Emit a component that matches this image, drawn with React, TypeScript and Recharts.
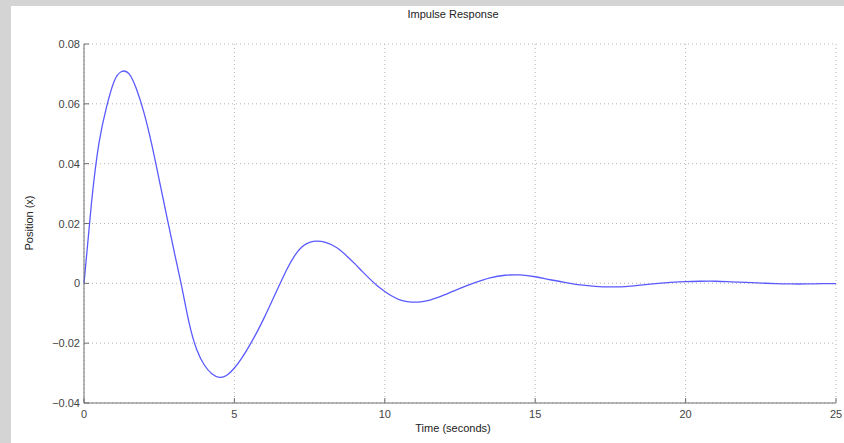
import { LineChart, Line, XAxis, YAxis, CartesianGrid } from 'recharts';

// impulse response
const time = [
  0, 0.25, 0.5, 0.75, 1, 1.25, 1.5, 1.75, 2, 2.25, 2.5, 2.75, 3, 3.25, 3.5, 3.75, 4, 4.25, 4.5, 4.75,
  5, 5.25, 5.5, 5.75, 6, 6.25, 6.5, 6.75, 7, 7.25, 7.5, 7.75, 8, 8.25, 8.5, 8.75, 9, 9.25, 9.5, 9.75,
  10, 10.25, 10.5, 10.75, 11, 11.25, 11.5, 11.75, 12, 12.5, 13, 13.5, 14, 14.5, 15, 15.5, 16, 16.5,
  17, 17.5, 18, 18.5, 19, 19.5, 20, 20.5, 21, 21.5, 22, 22.5, 23, 23.5, 24, 24.5, 25,
];
const position = [
  0, 0.027, 0.047, 0.059, 0.0675, 0.0708, 0.07, 0.0648, 0.0568, 0.0465, 0.0346, 0.0225, 0.0105,
  -0.0012, -0.0135, -0.0222, -0.0273, -0.0302, -0.0314, -0.0307, -0.0283, -0.0249, -0.0208, -0.0163,
  -0.0113, -0.0059, -0.0005, 0.0048, 0.0092, 0.0122, 0.0137, 0.0141, 0.0138, 0.0128, 0.0112, 0.009,
  0.0066, 0.004, 0.0015, -0.0008, -0.0027, -0.0043, -0.0055, -0.0061, -0.0063, -0.0061, -0.0056,
  -0.0048, -0.0038, -0.0017, 0.0002, 0.0018, 0.0027, 0.0028, 0.0022, 0.0012, 0.0003, -0.0005, -0.001,
  -0.0012, -0.0011, -0.0006, -0.0001, 0.0003, 0.0006, 0.0007, 0.0007, 0.0005, 0.0003, 0.0001, -0.0001,
  -0.0002, -0.0002, -0.0001, -0.0001,
];

const xTicks = [0, 5, 10, 15, 20, 25];
const yTicks = [-0.04, -0.02, 0, 0.02, 0.04, 0.06, 0.08];
const yTickLabels = ['\u22120.04', '\u22120.02', '0', '0.02', '0.04', '0.06', '0.08'];

const data = time.map((t, i) => ({ t, x: position[i] }));

const FONT = '"Liberation Sans", Arial, Helvetica, sans-serif';
const AXIS = '#6e6e6e';
const TEXT = '#444';
const TICK_LEN = 5;

const BottomTick = (props: any) => {
  const { x, y, payload } = props;
  return (
    <g>
      <line x1={x} x2={x} y1={y} y2={y - TICK_LEN} stroke={AXIS} />
      <text x={x} y={y + 15} textAnchor="middle" fontSize={11} fill={TEXT} fontFamily={FONT}>
        {payload.value}
      </text>
    </g>
  );
};

const LeftTick = (props: any) => {
  const { x, y, index } = props;
  return (
    <g>
      <line x1={x} x2={x + TICK_LEN} y1={y} y2={y} stroke={AXIS} />
      <text x={x - 4} y={y + 4} textAnchor="end" fontSize={11} fill={TEXT} fontFamily={FONT}>
        {yTickLabels[index]}
      </text>
    </g>
  );
};

const TopTick = (props: any) => {
  const { x, y } = props;
  return <line x1={x} x2={x} y1={y} y2={y + TICK_LEN} stroke={AXIS} />;
};

const RightTick = (props: any) => {
  const { x, y } = props;
  return <line x1={x} x2={x - TICK_LEN} y1={y} y2={y} stroke={AXIS} />;
};

const labelStyle = {
  position: 'absolute' as const,
  width: 200,
  textAlign: 'center' as const,
  fontFamily: FONT,
  fontSize: 11,
  color: '#222',
};

export default function App() {
  return (
    <div style={{ position: 'absolute', left: 0, top: 0, width: 844, height: 443, background: '#d4d4d4' }}>
      <div style={{ position: 'absolute', left: 11, top: 6, right: 0, bottom: 0, background: '#fff' }} />
      <div style={{ ...labelStyle, left: 353, top: 8 }}>Impulse Response</div>
      <div style={{ ...labelStyle, left: 353, top: 422 }}>Time (seconds)</div>
      <div
        style={{
          ...labelStyle,
          left: 29 - 100,
          top: 223 - 8,
          height: 16,
          lineHeight: '16px',
          transform: 'rotate(-90deg)',
        }}
      >
        Position (x)
      </div>
      <div style={{ position: 'absolute', left: 0, top: 0 }}>
        <LineChart width={844} height={443} data={data} margin={{ top: 44, right: 8, bottom: 0, left: 0 }}>
          <CartesianGrid
            xAxisId="b"
            yAxisId="l"
            stroke="#b4b4b4"
            strokeDasharray="1 3"
            verticalValues={xTicks}
            horizontalValues={yTicks}
          />
          <XAxis
            xAxisId="b"
            dataKey="t"
            type="number"
            domain={[0, 25]}
            ticks={xTicks}
            interval={0}
            height={40}
            tickSize={0}
            tickMargin={0}
            tickLine={false}
            axisLine={{ stroke: AXIS }}
            tick={<BottomTick />}
          />
          <XAxis
            xAxisId="top"
            orientation="top"
            dataKey="t"
            type="number"
            domain={[0, 25]}
            ticks={xTicks}
            interval={0}
            height={0}
            tickSize={0}
            tickMargin={0}
            tickLine={false}
            axisLine={{ stroke: AXIS }}
            tick={<TopTick />}
          />
          <YAxis
            yAxisId="l"
            type="number"
            domain={[-0.04, 0.08]}
            ticks={yTicks}
            interval={0}
            width={84}
            tickSize={0}
            tickMargin={0}
            tickLine={false}
            axisLine={{ stroke: AXIS }}
            tick={<LeftTick />}
          />
          <YAxis
            yAxisId="r"
            orientation="right"
            type="number"
            domain={[-0.04, 0.08]}
            ticks={yTicks}
            interval={0}
            width={0}
            tickSize={0}
            tickMargin={0}
            tickLine={false}
            axisLine={{ stroke: AXIS }}
            tick={<RightTick />}
          />
          <Line
            xAxisId="b"
            yAxisId="l"
            type="natural"
            dataKey="x"
            stroke="#5a5aff"
            strokeWidth={1.3}
            dot={false}
            isAnimationActive={false}
          />
        </LineChart>
      </div>
    </div>
  );
}
